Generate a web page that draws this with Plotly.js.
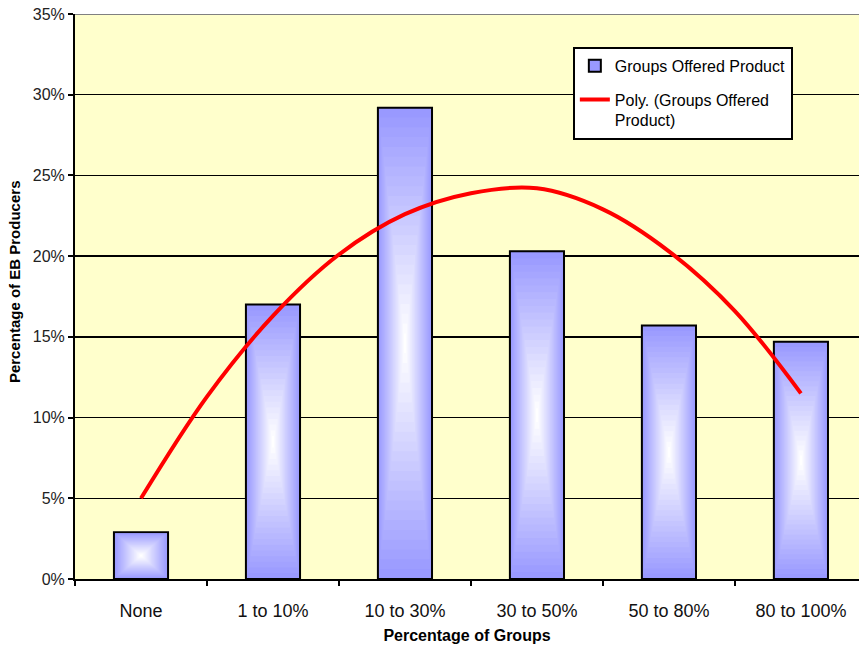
<!DOCTYPE html>
<html>
<head>
<meta charset="utf-8">
<script src="https://cdn.plot.ly/plotly-3.0.1.min.js"></script>
<style>
  html, body { margin: 0; padding: 0; background: #ffffff; }
  #chart { width: 859px; height: 647px; }
</style>
</head>
<body>
<div id="chart"></div>
<script>
// Share of EB producers by percentage of groups offered the product
const categories = ['None', '1 to 10%', '10 to 30%', '30 to 50%', '50 to 80%', '80 to 100%'];
const groupsOffered = [2.9, 17.0, 29.2, 20.3, 15.7, 14.7];

// Second-order polynomial trend, sampled along the category positions
const trendPositions = [0, 0.5, 1, 1.5, 2, 2.5, 3, 3.5, 4, 4.5, 5];
const trendValues = [5.0, 11.3, 16.3, 20.1, 22.6, 23.9, 24.2, 22.9, 20.3, 16.6, 11.5];

const yTicks = [0, 5, 10, 15, 20, 25, 30, 35];

const FONT = 'Liberation Sans, Arial, sans-serif';
const BAR_WIDTH = 0.41;
const EDGE = [153, 153, 255];
const LAYERS = 24;

const xIdx = categories.map((_, i) => i);

const traces = [];

// Outer bar with outline (also the legend entry)
traces.push({
  type: 'bar',
  name: 'Groups Offered Product',
  legendgroup: 'bars',
  x: xIdx,
  y: groupsOffered,
  width: BAR_WIDTH,
  marker: { color: `rgb(${EDGE.join(',')})`, line: { color: '#000000', width: 2 } },
  hoverinfo: 'skip'
});

// Concentric inner rectangles that fade from blue to white (centre gradient fill)
for (let k = 1; k < LAYERS; k++) {
  const s = 1 - k / LAYERS;
  const t = k / (LAYERS - 1);
  const c = EDGE.map(v => Math.round(v + (255 - v) * t));
  traces.push({
    type: 'bar',
    showlegend: false,
    legendgroup: 'bars',
    x: xIdx,
    y: groupsOffered.map(v => v * s),
    base: groupsOffered.map(v => v * (1 - s) / 2),
    width: BAR_WIDTH * s,
    marker: { color: `rgb(${c.join(',')})`, line: { width: 0 } },
    hoverinfo: 'skip'
  });
}

// Polynomial trendline
traces.push({
  type: 'scatter',
  mode: 'lines',
  name: 'Poly. (Groups Offered<br>Product)',
  legendgroup: 'trend',
  x: trendPositions,
  y: trendValues,
  line: { color: '#ff0000', width: 4, shape: 'spline' },
  hoverinfo: 'skip'
});

const layout = {
  width: 859,
  height: 647,
  margin: { l: 75, r: 0, t: 14, b: 68 },
  paper_bgcolor: '#ffffff',
  plot_bgcolor: '#ffffcc',
  barmode: 'overlay',
  showlegend: true,
  font: { family: FONT, color: '#000000' },
  xaxis: {
    type: 'linear',
    range: [-0.5, 5.44],
    tickvals: xIdx,
    ticktext: categories,
    ticks: '',
    ticklabelstandoff: 14,
    showgrid: false,
    zeroline: false,
    showline: true,
    linecolor: '#000000',
    linewidth: 2,
    tickfont: { size: 18, family: FONT, color: '#111111' },
    minor: { ticks: 'outside', tick0: 0.5, dtick: 1, ticklen: 5, tickwidth: 2, tickcolor: '#000000', showgrid: false },
    title: { text: 'Percentage of Groups', font: { size: 16, family: FONT, weight: 'bold', color: '#000000' }, standoff: 10 },
    fixedrange: true
  },
  yaxis: {
    range: [0, 35],
    tickvals: yTicks,
    ticktext: yTicks.map(v => v + '%'),
    ticks: 'outside',
    ticklen: 5,
    tickwidth: 2,
    tickcolor: '#000000',
    showgrid: true,
    gridcolor: '#000000',
    gridwidth: 1.5,
    zeroline: false,
    showline: true,
    linecolor: '#000000',
    linewidth: 2,
    tickfont: { size: 16, family: FONT, color: '#222222' },
    fixedrange: true
  },
  annotations: [
    // vertical axis title, set a little above the plot's middle
    {
      text: '<b>Percentage of EB Producers</b>',
      xref: 'paper', yref: 'paper',
      x: -0.078, y: 0.527,
      xanchor: 'center', yanchor: 'middle',
      textangle: -90,
      showarrow: false,
      font: { size: 15, family: FONT, color: '#000000' }
    }
  ],
  legend: {
    x: 0.635,
    y: 0.942,
    xanchor: 'left',
    yanchor: 'top',
    bgcolor: '#ffffff',
    bordercolor: '#000000',
    borderwidth: 2,
    font: { size: 16, family: FONT, color: '#000000' },
    traceorder: 'grouped',
    tracegroupgap: 10,
    valign: 'top'
  },
  shapes: [
    // grey plot-area border along the top
    { type: 'line', xref: 'paper', yref: 'y', x0: 0, x1: 1, y0: 35, y1: 35, line: { color: '#808080', width: 2 }, layer: 'above' }
  ]
};

Plotly.newPlot('chart', traces, layout, { staticPlot: true, displayModeBar: false });
</script>
</body>
</html>
